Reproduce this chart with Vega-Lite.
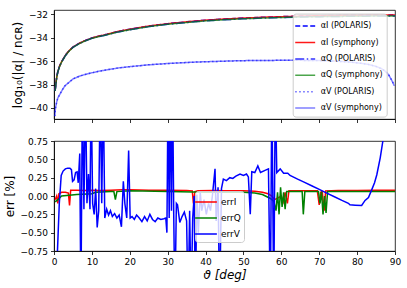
{
  "$schema": "https://vega.github.io/schema/vega-lite/v6.json",
  "background": "white",
  "padding": {"left": 3, "top": 9, "right": 5, "bottom": 4},
  "spacing": 12,
  "datasets": {
    "top": [
      {"t":0.3,"I":-38.5,"Q":-38.55},{"t":0.5,"I":-37.9,"Q":-37.95},{"t":0.7,"I":-37.4,"Q":-37.44},{"t":1,"I":-36.9,"Q":-36.93},
      {"t":1.5,"I":-36.4,"Q":-36.43},{"t":2,"I":-36.05,"Q":-36.08},{"t":3,"I":-35.5,"Q":-35.53},{"t":4,"I":-35.1,"Q":-35.13},
      {"t":5,"I":-34.8,"Q":-34.83},{"t":6.5,"I":-34.5,"Q":-34.53},{"t":8,"I":-34.27,"Q":-34.3},{"t":10,"I":-34.02,"Q":-34.05},
      {"t":12,"I":-33.85,"Q":-33.89},{"t":14,"I":-33.7,"Q":-33.74},{"t":17,"I":-33.45,"Q":-33.5},{"t":20,"I":-33.27,"Q":-33.32},
      {"t":25,"I":-33.0,"Q":-33.05},{"t":30,"I":-32.8,"Q":-32.85},{"t":35,"I":-32.64,"Q":-32.7},{"t":40,"I":-32.5,"Q":-32.56},
      {"t":45,"I":-32.4,"Q":-32.46},{"t":50,"I":-32.32,"Q":-32.38},{"t":55,"I":-32.25,"Q":-32.32},{"t":60,"I":-32.2,"Q":-32.27},
      {"t":65,"I":-32.15,"Q":-32.23},{"t":70,"I":-32.12,"Q":-32.2},{"t":75,"I":-32.09,"Q":-32.18},{"t":80,"I":-32.07,"Q":-32.16},
      {"t":85,"I":-32.06,"Q":-32.15},{"t":90,"I":-32.05,"Q":-32.15}
    ],
    "vv": [
      {"t":0.2,"V":-40.7},{"t":0.4,"V":-40.0},{"t":0.7,"V":-39.5},{"t":1.0,"V":-39.15},{"t":1.6,"V":-38.8},{"t":2.2,"V":-38.45},
      {"t":2.9,"V":-38.1},{"t":4,"V":-37.8},{"t":5.1,"V":-37.5},{"t":7,"V":-37.25},{"t":9.5,"V":-37.03},{"t":12,"V":-36.85},
      {"t":14,"V":-36.74},{"t":17,"V":-36.58},{"t":20,"V":-36.47},{"t":25,"V":-36.31},{"t":30,"V":-36.2},{"t":34,"V":-36.13},
      {"t":38,"V":-36.07},{"t":43,"V":-36.02},{"t":48,"V":-35.97},{"t":53,"V":-35.94},{"t":60,"V":-35.93},{"t":65,"V":-35.93},
      {"t":70,"V":-35.95},{"t":74,"V":-35.99},{"t":78,"V":-36.07},{"t":81,"V":-36.18},{"t":83,"V":-36.28},{"t":85,"V":-36.45},
      {"t":86.5,"V":-36.65},{"t":87.5,"V":-36.88},{"t":88.3,"V":-37.15},{"t":88.9,"V":-37.5},{"t":89.4,"V":-37.8},{"t":89.8,"V":-38.1}
    ],
    "eI": [
      {"t":0.3,"e":-0.05},{"t":0.7,"e":0.0},{"t":1.0,"e":-0.1},{"t":1.3,"e":0.03},{"t":2.0,"e":0.05},{"t":3.0,"e":0.05},
      {"t":3.8,"e":0.04},{"t":4.1,"e":-0.13},{"t":4.4,"e":0.08},{"t":6,"e":0.08},{"t":8,"e":0.075},{"t":10,"e":0.08},
      {"t":12,"e":0.075},{"t":15,"e":0.08},{"t":18,"e":0.085},{"t":20,"e":0.085},{"t":25,"e":0.08},{"t":30,"e":0.08},
      {"t":35,"e":0.075},{"t":36.5,"e":0.07},{"t":36.8,"e":-0.1},{"t":37.2,"e":0.06},{"t":38,"e":0.07},{"t":42,"e":0.075},
      {"t":45,"e":0.07},{"t":50,"e":0.07},{"t":53,"e":0.065},{"t":55,"e":0.05},{"t":56.5,"e":0.03},{"t":57.5,"e":0.0},
      {"t":58.2,"e":-0.05},{"t":59,"e":-0.03},{"t":60,"e":0.0},{"t":60.5,"e":-0.08},{"t":61,"e":0.05},{"t":61.6,"e":-0.1},
      {"t":62,"e":0.07},{"t":65,"e":0.07},{"t":69.5,"e":0.07},{"t":70,"e":-0.12},{"t":70.4,"e":0.05},{"t":70.8,"e":0.06},
      {"t":71.3,"e":-0.2},{"t":71.7,"e":0.07},{"t":75,"e":0.075},{"t":80,"e":0.075},{"t":85,"e":0.08},{"t":90,"e":0.08}
    ],
    "eQ": [
      {"t":0.3,"e":-0.08},{"t":1,"e":-0.05},{"t":2,"e":0.0},{"t":4,"e":0.01},{"t":6,"e":0.02},{"t":10,"e":0.03},
      {"t":11,"e":0.05},{"t":15,"e":0.06},{"t":15.8,"e":0.06},{"t":16.2,"e":-0.05},{"t":16.6,"e":0.06},{"t":20,"e":0.07},
      {"t":30,"e":0.06},{"t":40,"e":0.05},{"t":50,"e":0.05},{"t":53,"e":0.04},{"t":55,"e":0.02},{"t":57,"e":-0.03},
      {"t":58,"e":-0.07},{"t":58.6,"e":-0.2},{"t":59.0,"e":0.05},{"t":59.4,"e":-0.25},{"t":59.8,"e":0.12},{"t":60.2,"e":-0.15},
      {"t":60.6,"e":0.05},{"t":61.0,"e":-0.18},{"t":61.4,"e":0.06},{"t":62,"e":0.06},{"t":65.5,"e":0.06},{"t":65.8,"e":-0.25},
      {"t":66.2,"e":0.06},{"t":69.8,"e":0.06},{"t":70.2,"e":-0.1},{"t":70.6,"e":0.06},{"t":71.0,"e":-0.25},{"t":71.4,"e":0.0},
      {"t":71.8,"e":-0.23},{"t":72.2,"e":0.06},{"t":80,"e":0.06},{"t":90,"e":0.06}
    ],
    "eV": [
      {"t":0.3,"e":-2},{"t":0.8,"e":-0.9},{"t":1.4,"e":-0.1},{"t":1.9,"e":0.28},{"t":2.4,"e":0.34},{"t":3.0,"e":0.37},
      {"t":3.6,"e":0.38},{"t":4.2,"e":0.38},{"t":4.6,"e":0.36},{"t":4.9,"e":0.2},{"t":5.3,"e":0.22},{"t":5.7,"e":0.32},
      {"t":6.1,"e":0.33},{"t":6.4,"e":0.18},{"t":6.8,"e":0.58},{"t":7.1,"e":-1.5},{"t":7.5,"e":1.5},{"t":7.9,"e":-0.18},
      {"t":8.3,"e":1.5},{"t":8.7,"e":-0.1},{"t":9.1,"e":0.3},{"t":9.5,"e":-0.18},{"t":9.8,"e":1.5},{"t":10.2,"e":-0.1},
      {"t":10.6,"e":-0.25},{"t":11.0,"e":0.1},{"t":11.4,"e":-0.43},{"t":11.8,"e":-0.2},{"t":12.2,"e":1.5},{"t":12.6,"e":-0.1},
      {"t":13.0,"e":1.5},{"t":13.4,"e":-0.3},{"t":13.9,"e":-0.18},{"t":14.4,"e":-0.26},{"t":14.9,"e":-0.2},{"t":15.4,"e":-0.28},
      {"t":16.0,"e":-0.24},{"t":16.6,"e":-0.3},{"t":17.2,"e":-0.26},{"t":17.8,"e":-0.42},{"t":18.3,"e":0.2},{"t":18.7,"e":-0.1},
      {"t":19.2,"e":-0.3},{"t":19.7,"e":0.62},{"t":20.1,"e":-0.3},{"t":20.6,"e":-0.28},{"t":21.2,"e":-0.32},{"t":21.8,"e":-0.26},
      {"t":22.5,"e":-0.3},{"t":23.2,"e":-0.35},{"t":23.9,"e":-0.28},{"t":24.6,"e":-0.34},{"t":25.3,"e":-0.25},{"t":26.0,"e":-0.32},
      {"t":26.7,"e":-0.35},{"t":27.4,"e":-0.3},{"t":28.2,"e":-0.32},{"t":29.0,"e":-0.31},{"t":29.5,"e":-0.3},{"t":29.8,"e":-0.5},
      {"t":30.1,"e":1.5},{"t":30.4,"e":-0.3},{"t":30.7,"e":1.5},{"t":31.0,"e":-0.2},{"t":31.3,"e":1.5},{"t":31.6,"e":-0.25},
      {"t":31.9,"e":-1.5},{"t":32.3,"e":-0.1},{"t":32.6,"e":-0.12},{"t":33.2,"e":-0.36},{"t":33.8,"e":-0.28},{"t":34.4,"e":-0.22},
      {"t":35.0,"e":-0.34},{"t":35.4,"e":-1.5},{"t":35.8,"e":-0.2},{"t":36.2,"e":-1.5},{"t":36.6,"e":-0.3},{"t":37.0,"e":0.0},
      {"t":37.3,"e":-1.5},{"t":37.7,"e":0.02},{"t":38.1,"e":-0.5},{"t":38.6,"e":0.05},{"t":39.0,"e":-0.2},{"t":39.6,"e":-0.05},
      {"t":40.2,"e":-0.25},{"t":40.8,"e":-0.1},{"t":41.3,"e":-0.2},{"t":41.8,"e":0.0},{"t":42.5,"e":0.37},{"t":42.8,"e":-0.34},
      {"t":43.3,"e":0.12},{"t":43.7,"e":-1.5},{"t":44.2,"e":0.1},{"t":44.7,"e":0.23},{"t":45.5,"e":0.21},{"t":46.4,"e":0.25},
      {"t":47.2,"e":0.24},{"t":48.0,"e":0.27},{"t":49.1,"e":0.3},{"t":50.0,"e":0.28},{"t":50.8,"e":0.3},{"t":51.3,"e":0.26},
      {"t":51.8,"e":-0.25},{"t":52.2,"e":0.33},{"t":53.0,"e":0.32},{"t":53.8,"e":0.41},{"t":54.5,"e":0.32},{"t":55.7,"e":0.35},
      {"t":56.6,"e":0.37},{"t":57.1,"e":-1.5},{"t":57.5,"e":1.5},{"t":58.0,"e":-1.5},{"t":58.4,"e":1.5},{"t":58.8,"e":0.32},
      {"t":59.7,"e":0.37},{"t":60.6,"e":0.31},{"t":61.7,"e":0.31},{"t":62.3,"e":0.28},{"t":64.3,"e":0.23},{"t":66,"e":0.19},
      {"t":68,"e":0.14},{"t":70,"e":0.09},{"t":72,"e":0.04},{"t":74,"e":-0.01},{"t":76,"e":-0.06},{"t":77.7,"e":-0.1},
      {"t":78.1,"e":-0.12},{"t":79.5,"e":-0.125},{"t":81.2,"e":-0.13},{"t":82.1,"e":-0.06},{"t":83.0,"e":-0.02},{"t":83.9,"e":0.09},
      {"t":84.6,"e":0.18},{"t":85.2,"e":0.29},{"t":86.1,"e":0.52},{"t":86.8,"e":0.75},{"t":87.5,"e":0.95},{"t":88.5,"e":1.3}
    ]
  },
  "vconcat": [
    {
      "width": 341,
      "height": 109,
      "layer": [
        {
          "data": {"name": "top"},
          "mark": {"type": "line", "strokeWidth": 1.5, "clip": true},
          "encoding": {
            "x": {"field": "t", "type": "quantitative", "scale": {"domain": [0, 90], "nice": false}, "axis": {"values": [0,10,20,30,40,50,60,70,80,90], "tickCount": 20, "labels": false, "title": null}},
            "y": {"field": "I", "type": "quantitative", "scale": {"domain": [-40.94, -31.63], "nice": false, "zero": false}, "axis": {"values": [-40,-38,-36,-34,-32], "tickCount": 20, "format": ".0f", "labelOverlap": false, "labelFlush": false, "labelExpr": "replace(datum.label, '-', '−')", "title": "log₁₀(|α| / nᴄʀ)", "titlePadding": 4}},
            "color": {"datum": "αI (POLARIS)", "type": "nominal",
              "scale": {"domain": ["αI (POLARIS)", "αI (symphony)", "αQ (POLARIS)", "αQ (symphony)", "αV (POLARIS)", "αV (symphony)"], "range": ["#0000ff", "#ff0000", "#0000ff", "#008000", "#0000ff", "#0000ff"]},
              "legend": {"orient": "none", "legendX": 238.7, "legendY": 3.6, "title": null, "fillColor": "rgba(255,255,255,0.8)", "strokeColor": "#cccccc", "cornerRadius": 3, "padding": 4, "rowPadding": 3.4, "symbolType": "M-1.33,0H1.33", "symbolSize": 225, "symbolStrokeWidth": 1.5, "labelFontSize": 8, "labelOffset": 7}},
            "strokeDash": {"datum": "αI (POLARIS)", "type": "nominal",
              "scale": {"domain": ["αI (POLARIS)", "αI (symphony)", "αQ (POLARIS)", "αQ (symphony)", "αV (POLARIS)", "αV (symphony)"], "range": [[5, 2.5], [1, 0], [9, 2.5, 1.5, 2.5], [1, 0], [1.5, 2.5], [1, 0]]}},
            "opacity": {"datum": "αI (POLARIS)", "type": "nominal",
              "scale": {"domain": ["αI (POLARIS)", "αI (symphony)", "αQ (POLARIS)", "αQ (symphony)", "αV (POLARIS)", "αV (symphony)"], "range": [1, 0.5, 1, 0.5, 1, 0.5]}}
          }
        },
        {
          "data": {"name": "top"},
          "mark": {"type": "line", "strokeWidth": 1.5, "clip": true},
          "encoding": {
            "x": {"field": "t", "type": "quantitative"},
            "y": {"field": "I", "type": "quantitative"},
            "color": {"datum": "αI (symphony)", "type": "nominal"},
            "strokeDash": {"datum": "αI (symphony)", "type": "nominal"},
            "opacity": {"datum": "αI (symphony)", "type": "nominal"}
          }
        },
        {
          "data": {"name": "top"},
          "mark": {"type": "line", "strokeWidth": 1.5, "clip": true},
          "encoding": {
            "x": {"field": "t", "type": "quantitative"},
            "y": {"field": "Q", "type": "quantitative"},
            "color": {"datum": "αQ (POLARIS)", "type": "nominal"},
            "strokeDash": {"datum": "αQ (POLARIS)", "type": "nominal"},
            "opacity": {"datum": "αQ (POLARIS)", "type": "nominal"}
          }
        },
        {
          "data": {"name": "top"},
          "mark": {"type": "line", "strokeWidth": 1.5, "clip": true},
          "encoding": {
            "x": {"field": "t", "type": "quantitative"},
            "y": {"field": "Q", "type": "quantitative"},
            "color": {"datum": "αQ (symphony)", "type": "nominal"},
            "strokeDash": {"datum": "αQ (symphony)", "type": "nominal"},
            "opacity": {"datum": "αQ (symphony)", "type": "nominal"}
          }
        },
        {
          "data": {"name": "vv"},
          "mark": {"type": "line", "strokeWidth": 1.5, "clip": true},
          "encoding": {
            "x": {"field": "t", "type": "quantitative"},
            "y": {"field": "V", "type": "quantitative"},
            "color": {"datum": "αV (POLARIS)", "type": "nominal"},
            "strokeDash": {"datum": "αV (POLARIS)", "type": "nominal"},
            "opacity": {"datum": "αV (POLARIS)", "type": "nominal"}
          }
        },
        {
          "data": {"name": "vv"},
          "mark": {"type": "line", "strokeWidth": 1.5, "clip": true},
          "encoding": {
            "x": {"field": "t", "type": "quantitative"},
            "y": {"field": "V", "type": "quantitative"},
            "color": {"datum": "αV (symphony)", "type": "nominal"},
            "strokeDash": {"datum": "αV (symphony)", "type": "nominal"},
            "opacity": {"datum": "αV (symphony)", "type": "nominal"}
          }
        }
      ]
    },
    {
      "width": 341,
      "height": 110,
      "layer": [
        {
          "data": {"name": "eI"},
          "mark": {"type": "line", "strokeWidth": 1.5, "clip": true},
          "encoding": {
            "x": {"field": "t", "type": "quantitative", "scale": {"domain": [0, 90], "nice": false}, "axis": {"values": [0,10,20,30,40,50,60,70,80,90], "tickCount": 20, "labelOverlap": false, "labelFlush": false, "title": "ϑ [deg]", "titleFontStyle": "italic", "titlePadding": 3}},
            "y": {"field": "e", "type": "quantitative", "scale": {"domain": [-0.75, 0.75], "nice": false, "zero": false}, "axis": {"values": [-0.75,-0.5,-0.25,0,0.25,0.5,0.75], "tickCount": 20, "labelOverlap": false, "labelFlush": false, "format": ".2f", "labelExpr": "replace(datum.label, '-', '−')", "title": "err [%]", "titlePadding": 3}},
            "color": {"datum": "errI", "type": "nominal",
              "scale": {"domain": ["errI", "errQ", "errV"], "range": ["#ff0000", "#008000", "#0000ff"]},
              "legend": {"orient": "none", "legendX": 141, "legendY": 50, "title": null, "fillColor": "rgba(255,255,255,0.8)", "strokeColor": "#cccccc", "cornerRadius": 3, "padding": 3, "rowPadding": 3, "symbolType": "M-1.5,0H1.5", "symbolSize": 210, "symbolStrokeWidth": 1.5, "labelFontSize": 9, "labelOffset": 7}}
          }
        },
        {
          "data": {"name": "eQ"},
          "mark": {"type": "line", "strokeWidth": 1.5, "clip": true},
          "encoding": {
            "x": {"field": "t", "type": "quantitative"},
            "y": {"field": "e", "type": "quantitative"},
            "color": {"datum": "errQ", "type": "nominal"}
          }
        },
        {
          "data": {"name": "eV"},
          "mark": {"type": "line", "strokeWidth": 1.5, "clip": true},
          "encoding": {
            "x": {"field": "t", "type": "quantitative"},
            "y": {"field": "e", "type": "quantitative"},
            "color": {"datum": "errV", "type": "nominal"}
          }
        }
      ]
    }
  ],
  "resolve": {"scale": {"color": "independent", "strokeDash": "independent", "opacity": "independent"}, "legend": {"color": "independent", "strokeDash": "independent", "opacity": "independent"}},
  "config": {
    "font": "DejaVu Sans",
    "view": {"stroke": "#000000", "strokeWidth": 0.8},
    "axis": {"grid": false, "domainColor": "#000000", "domainWidth": 0.8, "tickColor": "#000000", "tickWidth": 0.8, "tickSize": 3.5, "labelPadding": 3, "labelFontSize": 9, "labelColor": "#000000", "labelFont": "DejaVu Sans", "labelOverlap": false, "labelFlush": false, "titleFont": "DejaVu Sans", "titleFontSize": 12, "titleFontWeight": "normal", "titleColor": "#000000"},
    "legend": {"labelFont": "DejaVu Sans", "labelColor": "#000000"}
  }
}
